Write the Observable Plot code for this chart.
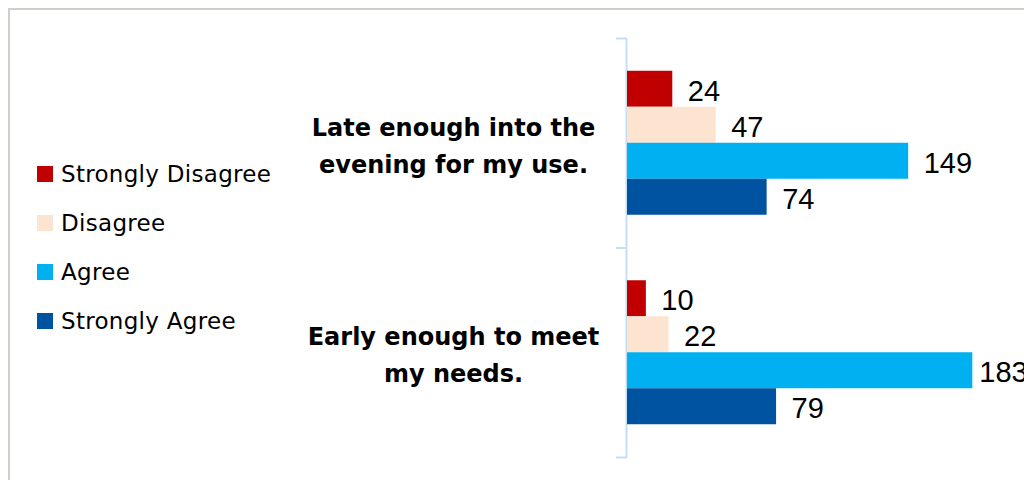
<!DOCTYPE html>
<html><head><meta charset="utf-8">
<script src="https://cdn.jsdelivr.net/npm/d3@7"></script>
<script src="https://cdn.jsdelivr.net/npm/@observablehq/plot@0.6"></script>
<style>
html,body{margin:0;padding:0;background:#fff;overflow:hidden;width:1024px;height:480px;}
#chart{position:absolute;left:0;top:0;}
#frame{position:absolute;left:8px;top:8px;width:1100px;height:600px;border-top:2px solid #D0D0CB;border-left:2px solid #D0D0CB;pointer-events:none;}
#legend{position:absolute;left:37px;top:0;font-family:"DejaVu Sans",sans-serif;font-size:23px;letter-spacing:0.3px;color:#000;}
.item{position:absolute;left:0;white-space:nowrap;height:24px;display:flex;align-items:center;}
.sw{width:16px;height:16px;margin-right:8px;flex:none;}
</style></head>
<body><div id="chart"></div><div id="legend"></div><div id="frame"></div>
<script>
// ---- data ----
const questions = ["Late enough into the\nevening for my use.", "Early enough to meet\nmy needs."];
const responses = ["Strongly Disagree", "Disagree", "Agree", "Strongly Agree"];
const colors = ["#C00000", "#FDE4D0", "#00B0F0", "#0053A0"];
const lateValues = [24, 47, 149, 74];
const earlyValues = [10, 22, 183, 79];
const seriesByQuestion = [lateValues, earlyValues];

// ---- table ----
const rows = questions.flatMap((q, i) =>
  responses.map((r, j) => ({question: q, qi: i, response: r, value: seriesByQuestion[i][j]}))
);

// sub-band layout inside each question band
const inner = d3.scaleBand().domain(responses).range([0, 1]).paddingInner(0).paddingOuter(0.91);
const bw = inner.bandwidth();
const axisColor = "#C6DDF2";
const labelLimit = 178.5; // value labels are kept inside the plot area (as in the original)

const W = 1024, H = 480, ML = 627, MR = 19.6;

const chart = Plot.plot({
  width: W, height: H,
  marginLeft: ML, marginRight: MR, marginTop: 38, marginBottom: 23,
  style: {background: "transparent", overflow: "hidden"},
  x: {domain: [0, 200], axis: null},
  y: {domain: [0, 2], reverse: true, axis: null},
  color: {domain: responses, range: colors},
  marks: [
    Plot.ruleX([0], {stroke: axisColor, strokeWidth: 2, dx: -1}),
    Plot.ruleY([0, 1, 2], {y: d => d, x1: () => 0, x2: () => 0, insetLeft: -11, stroke: axisColor, strokeWidth: 2}),
    Plot.rect(rows, {
      x1: () => 0, x2: "value",
      y1: d => d.qi + inner(d.response),
      y2: d => d.qi + inner(d.response) + bw,
      fill: "response"
    }),
    Plot.text(rows, {
      x: d => Math.min(d.value, labelLimit),
      y: d => d.qi + inner(d.response) + bw / 2,
      text: d => String(d.value),
      dx: 15, dy: 2, textAnchor: "start", fontSize: 29,
      fontFamily: "Liberation Sans, Arial, sans-serif", fill: "#000"
    }),
    Plot.text(questions, {
      x: () => 0, y: (d, i) => i + 0.5,
      text: d => d,
      dx: -174, dy: -1, textAnchor: "middle", fontSize: 24, fontWeight: "bold",
      fontFamily: "DejaVu Sans, sans-serif", fill: "#000", lineHeight: 1.55
    })
  ]
});
document.getElementById("chart").appendChild(chart);

// ---- legend ----
const legendCenters = [174, 223, 272, 321];
const leg = document.getElementById("legend");
responses.forEach((r, j) => {
  const it = document.createElement("div");
  it.className = "item";
  it.style.top = (legendCenters[j] - 12) + "px";
  const sw = document.createElement("span");
  sw.className = "sw";
  sw.style.background = colors[j];
  const tx = document.createElement("span");
  tx.textContent = r;
  it.appendChild(sw); it.appendChild(tx);
  leg.appendChild(it);
});
</script>
</body></html>
